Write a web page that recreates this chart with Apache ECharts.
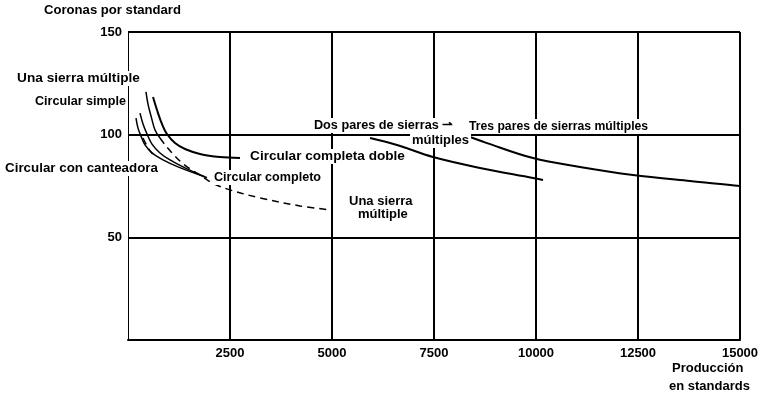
<!DOCTYPE html>
<html><head><meta charset="utf-8">
<script src="https://cdn.jsdelivr.net/npm/echarts@6/dist/echarts.min.js"></script>
<style>html,body{margin:0;padding:0;background:#fff}#c{width:759px;height:400px}</style>
</head><body><div id="c"></div>
<script>
// x tick labels (production, standards) and y tick labels (coronas per standard)
const xTicks = [2500, 5000, 7500, 10000, 12500, 15000];
const yTicks = [50, 100, 150];

// curves: [production, coronas]
const unaSierraSolid = [[441,120.8],[490,114.9],[564,109.1],[662,102.3],[784,98.4]];
const unaSierraDashed = [[784,98.4],[931,94.5],[1103,90.6],[1299,86.7],[1520,83.3],[1765,80.4],[2059,76.5],[2500,73.1],[3235,69.2],[4216,65.3],[5000,63.3]];
const circularDoble = [[613,118.3],[711,112.0],[833,105.2],[956,100.3],[1152,95.9],[1397,93.0],[1765,90.6],[2255,89.1],[2745,88.6]];
const circularSimple = [[294,110.5],[368,105.2],[466,100.3],[588,95.4],[784,91.1],[1029,87.7],[1397,83.8],[1936,79.0]];
const circularCanteadora = [[196,108.1],[245,103.2],[319,99.3],[417,95.0],[588,91.1],[858,87.7],[1225,84.3],[1887,79.4]];
const circularCompletoDashed = [[368,98.4],[466,94.5],[564,91.6],[686,89.1]];
const dosPares = [[5931,98.4],[6593,95.0],[7475,89.1],[8627,83.8],[9926,78.9],[10172,77.9]];
const tresPares = [[8186,100.3],[8799,95.9],[9926,88.6],[11078,84.3],[12377,80.4],[13775,77.4],[15000,75.0],[15319,74.0]];

const F = '"Liberation Sans", Arial, sans-serif';
const FONT = 'bold 13px ' + F;
const chart = echarts.init(document.getElementById('c'), null, {renderer:'canvas'});

function line(data, width, dashed){
  return {type:'line', data, symbol:'none', smooth:0.35, clip:false,
    lineStyle:{color:'#000', width, type: dashed ? [7,5] : 'solid'}, z:3, silent:true};
}

// [text, left px, center y px, width px (null = natural)]
const labels = [
  ['Coronas por standard', 42, 12, 141],
  ['Una sierra múltiple', 15, 80, 127],
  ['Circular simple', 33, 103, 95],
  ['Circular con canteadora', 3, 170, 157],
  ['Circular completa doble', 248, 158, 159],
  ['Circular completo', 212, 179, 111],
  ['Una sierra', 347, 203, null],
  ['múltiple', 356, 216, null],
  ['Dos pares de sierras \u21c0', 312, 127, 143],
  ['múltiples', 410, 142, null],
  ['Tres pares de sierras múltiples', 467, 128, 183],
  ['Producción', 670, 370, null],
  ['en standards', 667, 388, null]
];
const ctx = document.createElement('canvas').getContext('2d');
ctx.font = FONT;

chart.setOption({
  animation:false,
  backgroundColor:'#fff',
  grid:{left:128, right:19, top:32, bottom:60, containLabel:false, outerBoundsMode:'none'},
  xAxis:{type:'value', min:0, max:15000, interval:2500,
    axisLine:{show:true, lineStyle:{color:'#000', width:2}},
    axisTick:{show:false},
    axisLabel:{color:'#000', fontFamily:F, fontWeight:'bold', fontSize:13, margin:7,
      formatter:v => xTicks.includes(v) ? String(v) : ''},
    splitLine:{show:true, showMinLine:false, lineStyle:{color:'#000', width:2}}
  },
  yAxis:{type:'value', min:0, max:150, interval:50,
    axisLine:{show:true, lineStyle:{color:'#000', width:1}},
    axisTick:{show:false},
    axisLabel:{color:'#000', fontFamily:F, fontWeight:'bold', fontSize:13, margin:6,
      formatter:v => yTicks.includes(v) ? String(v) : ''},
    splitLine:{show:true, showMinLine:false, lineStyle:{color:'#000', width:2}}
  },
  series:[
    line(unaSierraSolid, 1.5, false),
    line(unaSierraDashed, 1.5, true),
    line(circularDoble, 2, false),
    line(circularSimple, 1.5, false),
    line(circularCanteadora, 1.5, false),
    line(circularCompletoDashed, 1.5, true),
    line(dosPares, 2, false),
    line(tresPares, 2, false)
  ],
  graphic: labels.map(([t,x,y,w]) => {
    const m = ctx.measureText(t).width + 4;
    return {type:'text', x:x, y:y-9, z:100, scaleX: w ? w / m : 1,
      style:{text:t, fill:'#000', font:FONT, backgroundColor:'#fff', padding:[1,2]}};
  })
});
</script></body></html>
